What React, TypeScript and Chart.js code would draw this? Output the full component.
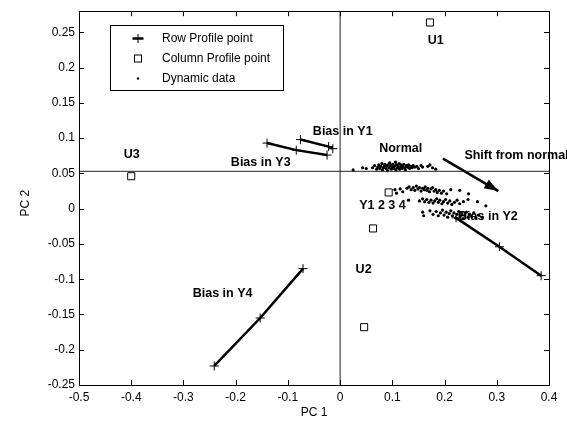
import React, { useEffect, useRef } from 'react';
import { Chart, registerables } from 'chart.js';

Chart.register(...registerables);

// ---- axes ----
const X_RANGE = [-0.5, 0.4];
const Y_RANGE = [-0.25, 0.28];
const X_TICKS = [-0.5, -0.4, -0.3, -0.2, -0.1, 0, 0.1, 0.2, 0.3, 0.4];
const Y_TICKS = [-0.25, -0.2, -0.15, -0.1, -0.05, 0, 0.05, 0.1, 0.15, 0.2, 0.25];
const X_TITLE = 'PC 1';
const Y_TITLE = 'PC 2';

// ---- reference lines ----
const H_REF = 0.053;
const V_REF = 0;

// ---- row profile points (bias directions) ----
const BIAS_Y1 = [[-0.076, 0.098], [-0.022, 0.088], [-0.014, 0.085]];
const BIAS_Y2 = [[0.222, -0.013], [0.305, -0.054], [0.385, -0.095]];
const BIAS_Y3 = [[-0.140, 0.093], [-0.084, 0.083], [-0.025, 0.076]];
const BIAS_Y4 = [[-0.241, -0.223], [-0.153, -0.155], [-0.071, -0.085]];

// ---- column profile points ----
const COLUMN_POINTS = [[0.172, 0.264], [-0.400, 0.046], [0.093, 0.023], [0.063, -0.028], [0.046, -0.168]];

// ---- dynamic data ----
const DYNAMIC_NORMAL = [
  [0.025, 0.055], [0.043, 0.058], [0.050, 0.057], [0.062, 0.058], [0.066, 0.061], [0.070, 0.056],
  [0.072, 0.059], [0.074, 0.062], [0.076, 0.057], [0.078, 0.060], [0.080, 0.064], [0.081, 0.055],
  [0.083, 0.058], [0.085, 0.061], [0.086, 0.063], [0.088, 0.057], [0.089, 0.060], [0.091, 0.054],
  [0.092, 0.062], [0.094, 0.058], [0.095, 0.065], [0.097, 0.061], [0.098, 0.056], [0.100, 0.059],
  [0.101, 0.063], [0.103, 0.057], [0.104, 0.060], [0.106, 0.066], [0.107, 0.055], [0.108, 0.062],
  [0.110, 0.058], [0.111, 0.061], [0.113, 0.064], [0.114, 0.056], [0.116, 0.059], [0.117, 0.062],
  [0.119, 0.057], [0.120, 0.060], [0.122, 0.063], [0.124, 0.058], [0.125, 0.055], [0.127, 0.061],
  [0.129, 0.059], [0.131, 0.062], [0.133, 0.057], [0.135, 0.060], [0.138, 0.058], [0.140, 0.061],
  [0.143, 0.059], [0.147, 0.060], [0.150, 0.057], [0.155, 0.061], [0.158, 0.059], [0.168, 0.060],
  [0.172, 0.062], [0.177, 0.058], [0.183, 0.056],
];
const DYNAMIC_SHIFT = [
  [0.105, 0.027], [0.108, 0.022], [0.115, 0.028], [0.120, 0.024],
  [0.128, 0.029], [0.132, 0.031], [0.136, 0.027], [0.140, 0.030], [0.143, 0.026], [0.146, 0.032],
  [0.149, 0.028], [0.152, 0.030], [0.155, 0.025], [0.158, 0.029], [0.161, 0.027], [0.163, 0.031],
  [0.166, 0.026], [0.168, 0.029], [0.171, 0.024], [0.174, 0.028], [0.177, 0.030], [0.180, 0.025],
  [0.183, 0.027], [0.186, 0.023], [0.190, 0.026], [0.194, 0.022], [0.198, 0.025], [0.204, 0.021],
  [0.212, 0.027], [0.229, 0.026], [0.246, 0.021],
  [0.131, 0.012], [0.152, 0.011], [0.158, 0.014], [0.162, 0.010], [0.166, 0.013], [0.170, 0.009],
  [0.174, 0.012], [0.178, 0.008], [0.181, 0.011], [0.185, 0.014], [0.188, 0.009], [0.191, 0.012],
  [0.195, 0.007], [0.198, 0.010], [0.202, 0.013], [0.206, 0.008], [0.210, 0.011], [0.214, 0.006],
  [0.219, 0.009], [0.224, 0.012], [0.229, 0.007], [0.236, 0.010], [0.245, 0.013], [0.263, 0.010],
  [0.279, 0.004],
  [0.158, -0.005], [0.160, -0.010], [0.172, -0.003], [0.178, -0.008], [0.184, -0.004], [0.188, -0.010],
  [0.192, -0.006], [0.196, -0.002], [0.199, -0.009], [0.203, -0.005], [0.206, -0.012], [0.209, -0.007],
  [0.212, -0.003], [0.215, -0.010], [0.218, -0.006], [0.221, -0.013], [0.224, -0.008], [0.227, -0.004],
  [0.230, -0.011], [0.233, -0.007], [0.236, -0.014], [0.239, -0.009], [0.242, -0.005], [0.245, -0.012],
  [0.248, -0.008], [0.252, -0.011], [0.256, -0.006], [0.260, -0.013], [0.265, -0.009], [0.272, -0.012],
];

// ---- shift arrow ----
const SHIFT_ARROW = [[0.197, 0.071], [0.303, 0.025]];

// ---- annotations ----
const LABEL_TEXT = ['U1', 'U2', 'U3', 'Normal', 'Shift from normal', 'Bias in Y1', 'Bias in Y2', 'Bias in Y3', 'Bias in Y4', 'Y1 2 3 4'];
const LABEL_X = [0.183, 0.045, -0.399, 0.116, 0.238, 0.005, 0.283, -0.152, -0.225, 0.081];
const LABEL_Y = [0.238, -0.087, 0.077, 0.085, 0.075, 0.110, -0.011, 0.065, -0.120, 0.005];
const LABEL_ALIGN = ['center', 'center', 'center', 'center', 'left', 'center', 'center', 'center', 'center', 'center'];

// ---- legend ----
const LEGEND_LABELS = ['Row Profile point', 'Column Profile point', 'Dynamic data'];

const FONT = '"Liberation Sans", Arial, Helvetica, sans-serif';
const toXY = (a: number[][]) => a.map(([x, y]) => ({ x, y }));
const fmt = (v: number) => String(Math.round(v * 100) / 100);

const rowDataset = (label: string, pts: number[][]) => ({
  label,
  data: toXY(pts),
  showLine: true,
  borderColor: '#000',
  borderWidth: 2.5,
  pointStyle: 'cross',
  pointRadius: 4.5,
  pointBorderWidth: 1,
  pointBorderColor: '#000',
  pointBackgroundColor: '#000',
});

const annotationsPlugin = {
  id: 'annotations',
  beforeDatasetsDraw(chart: any) {
    const { ctx, scales } = chart;
    ctx.save();
    ctx.font = `bold 12.5px ${FONT}`;
    ctx.fillStyle = '#000';
    ctx.textBaseline = 'middle';
    LABEL_TEXT.forEach((t, i) => {
      ctx.textAlign = LABEL_ALIGN[i];
      ctx.fillText(t, scales.x.getPixelForValue(LABEL_X[i]), scales.y.getPixelForValue(LABEL_Y[i]));
    });
    ctx.restore();
  },
  afterDatasetsDraw(chart: any) {
    const { ctx, scales } = chart;
    // arrow head for shift arrow
    const x0 = scales.x.getPixelForValue(SHIFT_ARROW[0][0]);
    const y0 = scales.y.getPixelForValue(SHIFT_ARROW[0][1]);
    const x1 = scales.x.getPixelForValue(SHIFT_ARROW[1][0]);
    const y1 = scales.y.getPixelForValue(SHIFT_ARROW[1][1]);
    const ang = Math.atan2(y1 - y0, x1 - x0);
    const L = 14, W = 5;
    const bx = x1 - L * Math.cos(ang), by = y1 - L * Math.sin(ang);
    ctx.save();
    ctx.fillStyle = '#000';
    ctx.beginPath();
    ctx.moveTo(x1, y1);
    ctx.lineTo(bx + W * Math.sin(ang), by - W * Math.cos(ang));
    ctx.lineTo(bx - W * Math.sin(ang), by + W * Math.cos(ang));
    ctx.closePath();
    ctx.fill();
    ctx.restore();
  },
  afterDraw(chart: any) {
    const { ctx, chartArea, scales } = chart;
    const { left, right, top, bottom } = chartArea;
    ctx.save();
    ctx.strokeStyle = '#000';
    ctx.lineWidth = 1;
    ctx.strokeRect(Math.round(left) + 0.5, Math.round(top) + 0.5, Math.round(right - left), Math.round(bottom - top));
    const TL = 5;
    ctx.beginPath();
    scales.x.ticks.forEach((t: any) => {
      const px = Math.round(scales.x.getPixelForValue(t.value)) + 0.5;
      ctx.moveTo(px, bottom); ctx.lineTo(px, bottom - TL);
      ctx.moveTo(px, top); ctx.lineTo(px, top + TL);
    });
    scales.y.ticks.forEach((t: any) => {
      const py = Math.round(scales.y.getPixelForValue(t.value)) + 0.5;
      ctx.moveTo(left, py); ctx.lineTo(left + TL, py);
      ctx.moveTo(right, py); ctx.lineTo(right - TL, py);
    });
    ctx.stroke();

    // legend
    const lx = Math.round(left) + 31, ly = Math.round(top) + 14, lw = 173, lh = 65;
    ctx.fillStyle = '#fff';
    ctx.fillRect(lx, ly, lw, lh);
    ctx.strokeRect(lx + 0.5, ly + 0.5, lw, lh);
    const mx = lx + 28;
    const rows = [ly + 13.5, ly + 33.5, ly + 53.5];
    // row profile marker
    ctx.lineWidth = 2.5;
    ctx.beginPath();
    ctx.moveTo(mx - 5.5, rows[0]); ctx.lineTo(mx + 5.5, rows[0]);
    ctx.stroke();
    ctx.lineWidth = 1;
    ctx.beginPath();
    ctx.moveTo(mx, rows[0] - 4.5); ctx.lineTo(mx, rows[0] + 4.5);
    ctx.stroke();
    // column marker
    ctx.strokeRect(mx - 3.5, rows[1] - 3.5, 7, 7);
    // dynamic marker
    ctx.fillStyle = '#000';
    ctx.beginPath();
    ctx.arc(mx, rows[2], 1.2, 0, Math.PI * 2);
    ctx.fill();
    ctx.font = `12px ${FONT}`;
    ctx.textAlign = 'left';
    ctx.textBaseline = 'middle';
    LEGEND_LABELS.forEach((t, i) => ctx.fillText(t, lx + 52, rows[i]));
    ctx.restore();
  },
};

export default function App() {
  const ref = useRef<HTMLCanvasElement>(null);
  useEffect(() => {
    if (!ref.current) return;
    Chart.defaults.font.family = FONT;
    Chart.defaults.color = '#000';
    const chart = new Chart(ref.current, {
      type: 'scatter',
      data: {
        datasets: [
          {
            label: 'hline',
            data: [{ x: X_RANGE[0], y: H_REF }, { x: X_RANGE[1], y: H_REF }],
            showLine: true, borderColor: '#222', borderWidth: 1, pointRadius: 0,
          },
          {
            label: 'vline',
            data: [{ x: V_REF, y: Y_RANGE[0] }, { x: V_REF, y: Y_RANGE[1] }],
            showLine: true, borderColor: '#222', borderWidth: 1, pointRadius: 0,
          },
          {
            label: 'Dynamic data',
            data: toXY([...DYNAMIC_NORMAL, ...DYNAMIC_SHIFT]),
            pointRadius: 1.6, pointBorderWidth: 0, pointBackgroundColor: '#000', borderColor: '#000',
          },
          rowDataset('Bias in Y1', BIAS_Y1),
          rowDataset('Bias in Y2', BIAS_Y2),
          rowDataset('Bias in Y3', BIAS_Y3),
          rowDataset('Bias in Y4', BIAS_Y4),
          {
            label: 'Shift',
            data: toXY(SHIFT_ARROW),
            showLine: true, borderColor: '#000', borderWidth: 2.5, pointRadius: 0,
          },
          {
            label: 'Column Profile point',
            data: toXY(COLUMN_POINTS),
            pointStyle: 'rect', pointRadius: 5, pointBorderWidth: 1,
            pointBorderColor: '#000', pointBackgroundColor: 'rgba(255,255,255,0)',
          },
        ],
      } as any,
      options: {
        responsive: false,
        animation: false,
        devicePixelRatio: 1,
        layout: { padding: { top: 10, right: 18, bottom: 0, left: 0 } },
        plugins: { legend: { display: false }, tooltip: { enabled: false } },
        scales: {
          x: {
            type: 'linear',
            min: X_RANGE[0],
            max: X_RANGE[1],
            afterBuildTicks: (s: any) => { s.ticks = X_TICKS.map((v) => ({ value: v })); },
            afterFit: (s: any) => { s.height = 36; },
            grid: { display: false, drawTicks: false },
            border: { display: false },
            ticks: { padding: 5, font: { size: 12 }, color: '#000', maxRotation: 0, autoSkip: false, callback: (v: any) => fmt(v) },
            title: { display: true, text: X_TITLE, font: { size: 12 }, color: '#000', padding: { top: 0, bottom: 1 } },
          },
          y: {
            type: 'linear',
            min: Y_RANGE[0],
            max: Y_RANGE[1],
            afterBuildTicks: (s: any) => { s.ticks = Y_TICKS.map((v) => ({ value: v })); },
            afterFit: (s: any) => { s.width = 79; },
            grid: { display: false, drawTicks: false },
            border: { display: false },
            ticks: { padding: 4, font: { size: 12 }, color: '#000', autoSkip: false, callback: (v: any) => fmt(v) },
            title: { display: true, text: Y_TITLE + '   ', font: { size: 12 }, color: '#000', padding: { top: 18, bottom: 0 } },
          },
        },
      } as any,
      plugins: [annotationsPlugin],
    });
    return () => chart.destroy();
  }, []);
  return (
    <div style={{ position: 'fixed', left: 0, top: 0, width: 567, height: 421, background: '#fff' }}>
      <canvas ref={ref} width={567} height={421} style={{ display: 'block', width: 567, height: 421 }} />
    </div>
  );
}
